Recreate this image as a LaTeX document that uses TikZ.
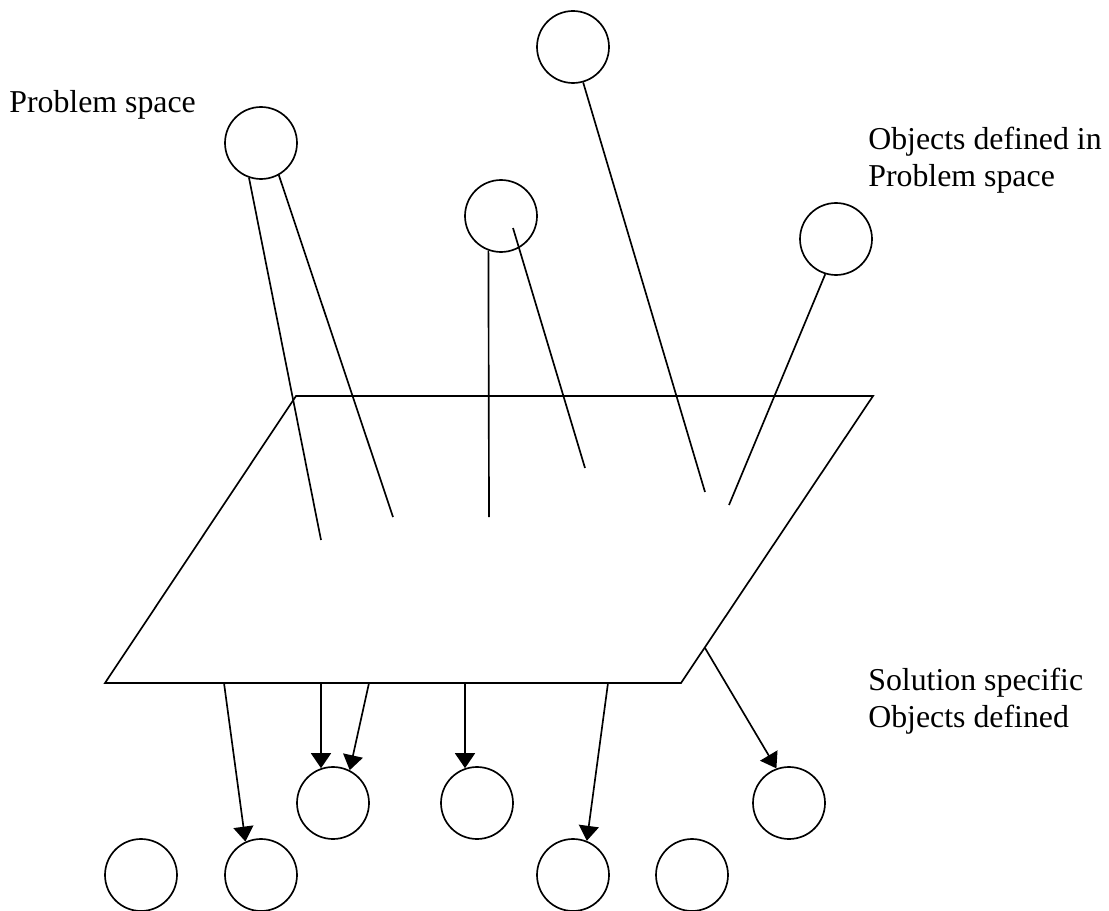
\documentclass[tikz,border=0pt]{standalone}
\usepackage{fontspec}
\setmainfont{Liberation Serif}
\usetikzlibrary{arrows.meta}
\begin{document}
\begin{tikzpicture}[x=0.6pt,y=-0.6pt,
  obj/.style={circle,draw,line width=1pt,minimum size=43.2pt,inner sep=0pt},
  ln/.style={line width=1pt},
  arr/.style={line width=1pt,-{Triangle[length=9pt,width=12pt]}},
  lbl/.style={anchor=base west,inner sep=0pt,font=\fontsize{19.1pt}{22.8pt}\selectfont}]
\useasboundingbox (0,0) rectangle (1109,911);
% plane
\draw[ln,line join=miter] (296,396) coordinate (tl) -- (873,396) coordinate (tr)
  -- (681,683) coordinate (br) -- (105,683) coordinate (bl) -- cycle;
% problem space objects
\node[obj] (A) at (261,143) {};
\node[obj] (B) at (501,216) {};
\node[obj] (C) at (573,47) {};
\node[obj] (D) at (836,239) {};
% line ends in the plane
\coordinate (a1) at (321,540);
\coordinate (a2) at (393,517);
\coordinate (b1) at (489,517);
\coordinate (b2s) at (513,228);
\coordinate (b2) at (585,468);
\coordinate (c1) at (705,492);
\coordinate (d1) at (729,505);
\draw[ln] (A.251) -- (a1);
\draw[ln] (A.299) -- (a2);
\draw[ln] (B.250.6) -- (b1);
\draw[ln] (b2s) -- (b2);
\draw[ln] (C.286.6) -- (c1);
\draw[ln] (D.253.4) -- (d1);
% solution objects
\node[obj] (S1) at (333,803) {};
\node[obj] (S2) at (477,803) {};
\node[obj] (S3) at (789,803) {};
\node[obj] (T1) at (141,875) {};
\node[obj] (T2) at (261,875) {};
\node[obj] (T3) at (573,875) {};
\node[obj] (T4) at (692,875) {};
% arrow starts on the plane
\coordinate (p1) at (224,683);
\coordinate (p2) at (321,683);
\coordinate (p3) at (369,683);
\coordinate (p4) at (465,683);
\coordinate (p5) at (608,683);
\coordinate (p6) at (705,648);
\draw[arr] (p1) -- (T2.115);
\draw[arr] (p2) -- (S1.109.4);
\draw[arr] (p3) -- (S1.63.4);
\draw[arr] (p4) -- (S2.109.4);
\draw[arr] (p5) -- (T3.68);
\draw[arr] (p6) -- (S3.110);
% labels
\node[lbl] (L1) at (9,113) {Problem space};
\node[lbl] (L2) at (868,150) {Objects defined in};
\node[lbl] (L3) at (868,187) {Problem space};
\node[lbl] (L4) at (868,690) {Solution specific};
\node[lbl] (L5) at (868,727) {Objects defined};
\end{tikzpicture}
\end{document}
